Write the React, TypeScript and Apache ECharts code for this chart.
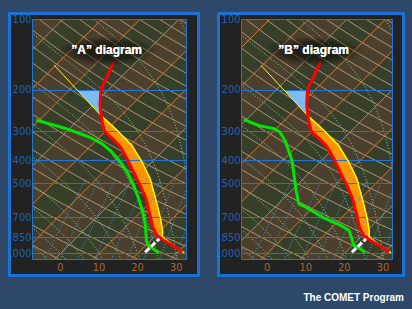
import React, { useEffect, useRef } from "react";
import * as echarts from "echarts";

// ---------- axis / grid values ----------
const PRESSURE_LABELS = [100, 200, 300, 400, 500, 700, 850, 1000];
const ISOBARS = [200, 300, 400, 500, 700, 850, 1000];
const TEMP_LABELS = [0, 10, 20, 30];
const ISOTHERMS = [-90, -80, -70, -60, -50, -40, -30, -20, -10, 0, 10, 20, 30, 40];
const BAND_STARTS = [-90, -80, -70, -60, -50, -40, -30, -20, -10, 0, 10, 20, 30];
const DRY_THETAS = [230, 240, 250, 260, 270, 280, 290, 300, 310, 320, 330, 340, 350, 360, 370, 380, 390, 400, 410, 420, 430, 440, 450, 460, 470, 480];
const MOIST_THETAW = [-10, -5, 0, 5, 10, 15, 20, 25, 30, 35, 40, 45, 50];
const MIXING_RATIOS = [3, 4, 5.5, 7.5, 10, 13, 17, 22, 28];

// ---------- sounding (hPa, °C) ----------
const TEMP_P = [152, 173, 191, 204, 232, 256, 278, 302, 322, 350, 393, 448, 511, 582, 686, 769, 835, 877, 921, 983];
const TEMP_T = [-35.8, -33.9, -32.6, -31.4, -28.2, -25.3, -22.8, -20.0, -16.4, -12.1, -7.3, -2.2, 3.0, 7.9, 13.3, 17.0, 20.2, 23.3, 26.8, 31.1];

const DEW_A_P = [269, 281, 292, 302, 317, 339, 368, 406, 448, 511, 582, 663, 757, 886, 936, 993];
const DEW_A_T = [-40.8, -35.6, -31.1, -27.7, -22.9, -17.7, -13.0, -8.2, -3.9, 1.3, 6.0, 10.5, 14.7, 19.1, 21.5, 25.3];

const DEW_B_P = [268, 284, 293, 303, 329, 363, 401, 472, 538, 613, 634, 700, 752, 797, 857, 924, 940, 987];
const DEW_B_T = [-40.7, -35.2, -30.4, -28.1, -24.6, -21.1, -17.6, -12.7, -8.8, -4.7, -1.9, 5.0, 11.2, 15.3, 17.8, 20.4, 21.8, 25.1];

const PARCEL_UPPER_P = [157, 256];
const PARCEL_UPPER_T = [-50.3, -25.5];
const PARCEL_P = [256, 292, 345, 406, 478, 545, 622, 709, 808, 848, 915, 993];
const PARCEL_T = [-25.5, -18.2, -9.5, -2.6, 3.8, 8.2, 12.6, 16.9, 20.9, 22.0, 26.7, 31.9];

const STABLE_P = [202, 256, 232, 202];
const STABLE_T = [-37.5, -25.5, -28.2, -31.5];

const WHITE_P = [987, 865];
const WHITE_T = [21.6, 21.8];

// ---------- diagram geometry ----------
const SKEW = 26.32;
const P_TOP = 100;
const P_BOTTOM = 1060;

const skewX = (t: number, p: number) => t + SKEW * Math.log(1000 / p);
const toPts = (P: number[], T: number[]) => P.map((p, i) => [skewX(T[i], p), p]);
const logSpace = (p0: number, p1: number, n: number) => {
  const a = Math.log(p0), b = Math.log(p1);
  return Array.from({ length: n + 1 }, (_, i) => Math.exp(a + ((b - a) * i) / n));
};

const isothermPath = (t: number) => [[skewX(t, 1150), 1150], [skewX(t, 90), 90]];
const dryPath = (theta: number) =>
  logSpace(1150, 90, 40).map((p) => [skewX(theta * Math.pow(p / 1000, 0.2857) - 273.15, p), p]);
const satVap = (tc: number) => 6.112 * Math.exp((17.67 * tc) / (tc + 243.5));
const moistPath = (tw: number) => {
  const Rd = 287.04, cp = 1005.7, Lv = 2.501e6, eps = 0.622;
  const rate = (T: number, p: number) => {
    const e = satVap(T - 273.15);
    const rs = (eps * e) / (p - e);
    return (Rd * T + Lv * rs) / (cp + (Lv * Lv * rs * eps) / (Rd * T * T));
  };
  const h = 0.01;
  const down: number[][] = [];
  let T = tw + 273.15, l = Math.log(1000);
  while (l < Math.log(1150)) { T += rate(T, Math.exp(l)) * h; l += h; down.push([T, Math.exp(l)]); }
  const up: number[][] = [[tw + 273.15, 1000]];
  T = tw + 273.15; l = Math.log(1000);
  let k = 0;
  while (l > Math.log(90)) { T -= rate(T, Math.exp(l)) * h; l -= h; k++; if (k % 4 === 0) up.push([T, Math.exp(l)]); }
  return [...down.reverse(), ...up].map(([Tk, p]) => [skewX(Tk - 273.15, p), p]);
};
const mixingPath = (w: number) =>
  logSpace(1150, 480, 14).map((p) => {
    const wk = w / 1000;
    const e = (wk * p) / (0.622 + wk);
    const l = Math.log(e / 6.112);
    return [skewX((243.5 * l) / (17.67 - l), p), p];
  });

const ISOTHERM_PATHS = ISOTHERMS.map(isothermPath);
const DRY_PATHS = DRY_THETAS.map(dryPath);
const MOIST_PATHS = MOIST_THETAW.map(moistPath);
const MIXING_PATHS = MIXING_RATIOS.map(mixingPath);

const PANELS = [
  { title: "\u201DA\u201D diagram", dewP: DEW_A_P, dewT: DEW_A_T, left: 32.5, width: 154, xMin: -7.23, xMax: 32.66, outer: [8, 12, 192, 265], titleX: 106.7 },
  { title: "\u201DB\u201D diagram", dewP: DEW_B_P, dewT: DEW_B_T, left: 241.5, width: 151, xMin: -6.63, xMax: 32.48, outer: [217, 12, 188, 265], titleX: 313.7 },
];

const BROWN = "#4b402e";
const GREEN = "#373f2a";
const BLUE = "#1f74d6";
const LABEL_FONT = "'Liberation Sans Narrow','Arial Narrow','DejaVu Sans Condensed',sans-serif";

function pathSeries(g: number, paths: number[][][], style: any, z: number) {
  return {
    type: "custom", xAxisIndex: g, yAxisIndex: g, clip: true, silent: true, z,
    data: paths.map((_, i) => [i, 500]),
    renderItem: (params: any, api: any) => ({
      type: "polyline",
      shape: { points: paths[params.dataIndex].map((pt) => api.coord(pt)) },
      style: { fill: null, ...style },
    }),
  };
}

function polygonSeries(g: number, poly: number[][], fill: string, z: number) {
  return {
    type: "custom", xAxisIndex: g, yAxisIndex: g, clip: true, silent: true, z,
    data: [[0, 500]],
    renderItem: (_p: any, api: any) => ({
      type: "polygon",
      shape: { points: poly.map((pt) => api.coord(pt)) },
      style: { fill },
    }),
  };
}

function buildOption() {
  const grids: any[] = [], xAxes: any[] = [], yAxes: any[] = [], series: any[] = [], graphic: any[] = [];
  const tempPts = toPts(TEMP_P, TEMP_T);
  const parcelPts = toPts(PARCEL_P, PARCEL_T);
  const capePoly = [
    ...parcelPts.filter((d) => d[1] >= 256 && d[1] <= 848),
    ...tempPts.filter((d) => d[1] >= 256 && d[1] <= 848).reverse(),
  ];
  const stablePoly = toPts(STABLE_P, STABLE_T);

  PANELS.forEach((pn, g) => {
    grids.push({ left: pn.left, top: 19.5, width: pn.width, height: 240 });
    xAxes.push({ type: "value", gridIndex: g, min: pn.xMin, max: pn.xMax, axisLine: { show: false }, axisTick: { show: false }, axisLabel: { show: false }, splitLine: { show: false } });
    yAxes.push({ type: "log", logBase: 10, gridIndex: g, inverse: true, min: P_TOP, max: P_BOTTOM, axisLine: { show: false }, axisTick: { show: false }, axisLabel: { show: false }, splitLine: { show: false } });

    // background bands between isotherms
    series.push({
      type: "custom", xAxisIndex: g, yAxisIndex: g, clip: true, silent: true, z: 1,
      data: BAND_STARTS.map((t) => [t, 500]),
      renderItem: (params: any, api: any) => {
        const t1 = BAND_STARTS[params.dataIndex], t2 = t1 + 10;
        const pts = [[t1, 1150], [t1, 90], [t2, 90], [t2, 1150]].map(([t, p]) => api.coord([skewX(t, p), p]));
        const k = Math.round(t1 / 10);
        return { type: "polygon", shape: { points: pts }, style: { fill: Math.abs(k) % 2 === 1 ? BROWN : GREEN } };
      },
    });
    series.push(polygonSeries(g, capePoly, "#ff9600", 2));
    series.push(pathSeries(g, DRY_PATHS, { stroke: "#b09474", lineWidth: 1 }, 3));
    series.push(pathSeries(g, ISOTHERM_PATHS, { stroke: "#cc7f3e", lineWidth: 1 }, 3));
    series.push(pathSeries(g, MOIST_PATHS, { stroke: "#8fd88f", lineWidth: 1, lineDash: [1, 2] }, 3));
    series.push(pathSeries(g, MIXING_PATHS, { stroke: "#41a3d6", lineWidth: 1, lineDash: [1, 2] }, 3));
    series.push(polygonSeries(g, stablePoly, "#7dbcf2", 4));

    const line = (data: number[][], color: string, width: number, z: number) => ({
      type: "line", xAxisIndex: g, yAxisIndex: g, data, showSymbol: false, symbol: "none", silent: true, z,
      lineStyle: { color, width },
    });
    series.push(line(toPts(PARCEL_UPPER_P, PARCEL_UPPER_T), "#ffff00", 1, 6));
    series.push(line(parcelPts, "#ffff00", 1.5, 6));
    series.push(line(toPts(pn.dewP, pn.dewT), "#00e600", 3, 6));
    series.push(line(tempPts, "#ff0000", 3, 7));
    series.push({
      type: "line", xAxisIndex: g, yAxisIndex: g, data: toPts(WHITE_P, WHITE_T), showSymbol: false, symbol: "none", silent: true, z: 8,
      lineStyle: { color: "#ffffff", width: 3, type: [6, 2] },
      markLine: {
        silent: true, symbol: ["none", "none"], label: { show: false }, z: 5,
        lineStyle: { color: BLUE, width: 1, type: "solid" },
        data: ISOBARS.map((p) => ({ yAxis: p })),
      },
    });
    // pressure labels
    series.push({
      type: "scatter", xAxisIndex: g, yAxisIndex: g, symbolSize: 0, silent: true, clip: false, z: 9,
      data: PRESSURE_LABELS.map((p) => [pn.xMin, p]),
      label: { show: true, position: "left", distance: 1, formatter: (d: any) => String(d.value[1]), color: BLUE, fontSize: 11, fontFamily: LABEL_FONT },
    });
    // temperature labels
    series.push({
      type: "scatter", xAxisIndex: g, yAxisIndex: g, symbolSize: 0, silent: true, clip: false, z: 9,
      data: TEMP_LABELS.map((t) => [t, P_BOTTOM]),
      label: { show: true, position: "bottom", distance: 2, formatter: (d: any) => String(d.value[0]), color: "#c97d38", fontSize: 11, fontFamily: LABEL_FONT },
    });

    const [ox, oy, ow, oh] = pn.outer;
    graphic.push({ type: "rect", z: 0, silent: true, shape: { x: ox, y: oy, width: ow, height: oh }, style: { fill: "#1b72d2" } });
    graphic.push({ type: "rect", z: 0, silent: true, shape: { x: ox + 3, y: oy + 3, width: ow - 6, height: oh - 6 }, style: { fill: "#222222" } });
    graphic.push({ type: "rect", z: 50, silent: true, shape: { x: pn.left, y: 19.5, width: pn.width, height: 240 }, style: { fill: "none", stroke: BLUE, lineWidth: 1 } });
    // dark halo behind the title
    graphic.push({
      type: "ellipse", z: 55, silent: true,
      shape: { cx: pn.titleX, cy: 51, rx: 50, ry: 15 },
      style: {
        fill: new echarts.graphic.RadialGradient(0.5, 0.5, 0.5, [
          { offset: 0, color: "rgba(0,0,0,0.7)" },
          { offset: 0.6, color: "rgba(0,0,0,0.45)" },
          { offset: 1, color: "rgba(0,0,0,0)" },
        ]),
      },
    });
    for (let i = 0; i < 2; i++) {
      graphic.push({
        type: "text", z: 60, silent: true,
        style: { text: pn.title, x: pn.titleX, y: 50, fill: "#ffffff", font: "bold 12px 'Liberation Sans', Arial, sans-serif", textAlign: "center", textVerticalAlign: "middle", shadowColor: "rgba(0,0,0,0.95)", shadowBlur: 6 },
      });
    }
  });

  graphic.push({
    type: "text", z: 60, silent: true,
    style: { text: "The COMET Program", x: 404, y: 297, fill: "#ffffff", font: "bold 10px 'Liberation Sans', Arial, sans-serif", textAlign: "right", textVerticalAlign: "middle" },
  });

  return { animation: false, backgroundColor: "#2d4868", grid: grids, xAxis: xAxes, yAxis: yAxes, series, graphic };
}

export default function App() {
  const ref = useRef<HTMLDivElement>(null);
  useEffect(() => {
    const chart = echarts.init(ref.current!, null, { renderer: "svg" });
    chart.setOption(buildOption() as any);
    return () => chart.dispose();
  }, []);
  return <div ref={ref} style={{ position: "fixed", left: 0, top: 0, width: 412, height: 309 }} />;
}
